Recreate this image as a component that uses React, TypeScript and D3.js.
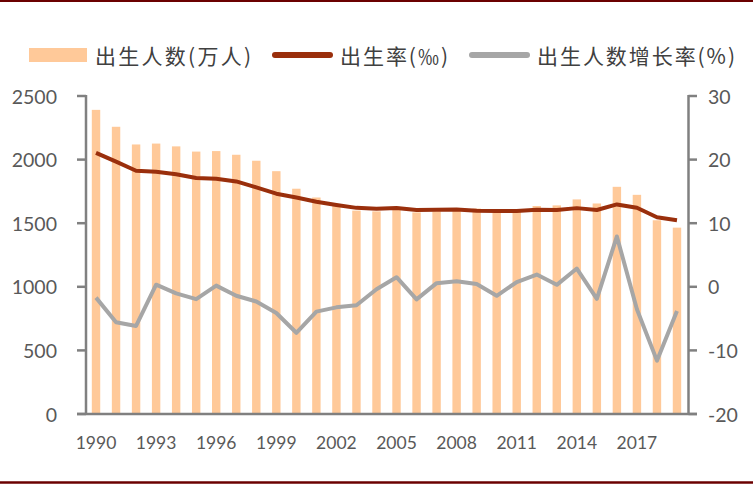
import * as d3 from "d3";

// years on the x axis
const years = d3.range(1990, 2020).map(String);
const yearTicks = ["1990", "1993", "1996", "1999", "2002", "2005", "2008", "2011", "2014", "2017"];

// 出生人数 (万人)
const births = [
  2391, 2258, 2119, 2126, 2104, 2063, 2067, 2038, 1991, 1909,
  1771, 1702, 1647, 1599, 1593, 1617, 1585, 1594, 1608, 1615,
  1592, 1604, 1635, 1640, 1687, 1655, 1786, 1723, 1523, 1465,
];

// 出生率 (‰)
const birthRate = [
  21.06, 19.68, 18.24, 18.09, 17.7, 17.12, 16.98, 16.57, 15.64, 14.64,
  14.03, 13.38, 12.86, 12.41, 12.29, 12.4, 12.09, 12.1, 12.14, 11.95,
  11.9, 11.93, 12.1, 12.08, 12.37, 12.07, 12.95, 12.43, 10.94, 10.48,
];

// 出生人数增长率 (%)
const growth = [
  -1.7, -5.56, -6.16, 0.33, -1.03, -1.95, 0.19, -1.4, -2.31, -4.12,
  -7.23, -3.9, -3.23, -2.91, -0.38, 1.51, -1.98, 0.57, 0.88, 0.44,
  -1.42, 0.75, 1.93, 0.31, 2.87, -1.9, 7.92, -3.53, -11.61, -3.81,
];

const leftTicks = [0, 500, 1000, 1500, 2000, 2500];
const rightTicks = [-20, -10, 0, 10, 20, 30];

const W = 753;
const H = 487;
const margin = { top: 96, bottom: 73, left: 86, right: 66 };

export default function App() {
  const x = d3.scaleBand<string>()
    .domain(years)
    .range([margin.left, W - margin.right]);

  const yL = d3.scaleLinear().domain([0, 2500]).range([H - margin.bottom, margin.top]);
  const yR = d3.scaleLinear().domain([-20, 30]).range([H - margin.bottom, margin.top]);

  const cx = (i: number) => (x(years[i]) || 0) + x.bandwidth() / 2;
  const barW = x.bandwidth() * 0.42;

  const rateLine = d3.line<number>().x((_, i) => cx(i)).y((d) => yR(d));

  const axisColor = "#808080";
  const textColor = "#595959";
  const numFont = "Lato, 'Liberation Sans', sans-serif";
  const cjkFont = "'Noto Sans CJK SC', sans-serif";
  const x0 = x.range()[0];
  const x1 = x.range()[1];
  const yBase = yL(0);

  return (
    <svg width={W} height={H} style={{ position: "absolute", left: 0, top: 0 }}>
      <rect width={W} height={H} fill="#fff" />
      {/* top and bottom rules */}
      <line x1={0} x2={W} y1={1} y2={1} stroke="#6b0000" strokeWidth={2} />
      <line x1={0} x2={W} y1={482.5} y2={482.5} stroke="#6b0000" strokeWidth={2.5} />

      {/* legend */}
      <g fontFamily={cjkFont} fontSize={21} fill="#404040">
        <rect x={29} y={48} width={58} height={14} fill="#ffc999" />
        <text x={95} y={55} dominantBaseline="central" textLength={156} lengthAdjust="spacing">出生人数(万人)</text>
        <line x1={275} x2={330} y1={55} y2={55} stroke="#9a2f0c" strokeWidth={6} strokeLinecap="round" />
        <text x={340} y={55} dominantBaseline="central" textLength={108} lengthAdjust="spacing">出生率(‰)</text>
        <line x1={472} x2={527} y1={55} y2={55} stroke="#a6a6a6" strokeWidth={6} strokeLinecap="round" />
        <text x={537} y={55} dominantBaseline="central" textLength={198} lengthAdjust="spacing">出生人数增长率(%)</text>
      </g>

      {/* bars */}
      <g fill="#ffc999">
        {births.map((d, i) => (
          <rect key={years[i]} x={cx(i) - barW / 2} y={yL(d)} width={barW} height={yBase - yL(d)} />
        ))}
      </g>

      {/* lines */}
      <path d={rateLine(growth) || ""} fill="none" stroke="#a6a6a6" strokeWidth={4} strokeLinejoin="round" />
      <path d={rateLine(birthRate) || ""} fill="none" stroke="#9a2f0c" strokeWidth={4} strokeLinejoin="round" />

      {/* axes */}
      <g stroke={axisColor} strokeWidth={2.5}>
        <line x1={x0} x2={x0} y1={margin.top - 1} y2={yBase} />
        <line x1={x1 + 1.5} x2={x1 + 1.5} y1={margin.top - 1} y2={yBase} />
        <line x1={x0 - 9} x2={x1 + 10} y1={yBase} y2={yBase} />
        {leftTicks.map((t) => (
          <line key={"l" + t} x1={x0 - 9} x2={x0} y1={yL(t)} y2={yL(t)} />
        ))}
        {rightTicks.map((t) => (
          <line key={"r" + t} x1={x1 + 1.5} x2={x1 + 10} y1={yR(t)} y2={yR(t)} />
        ))}
      </g>

      <g fontFamily={numFont} fontSize={19.5} fill={textColor}>
        {leftTicks.map((t) => (
          <text key={"lt" + t} x={57} y={yL(t)} textAnchor="end" dominantBaseline="central">{t}</text>
        ))}
        {rightTicks.map((t) => (
          <text key={"rt" + t} x={708} y={yR(t)} textAnchor="start" dominantBaseline="central">{t}</text>
        ))}
      </g>

      <g fontFamily={numFont} fontSize={17.5} fill={textColor}>
        {yearTicks.map((t) => (
          <text key={t} x={(x(t) || 0) + x.bandwidth() / 2} y={442} textAnchor="middle" dominantBaseline="central">{t}</text>
        ))}
      </g>
    </svg>
  );
}
